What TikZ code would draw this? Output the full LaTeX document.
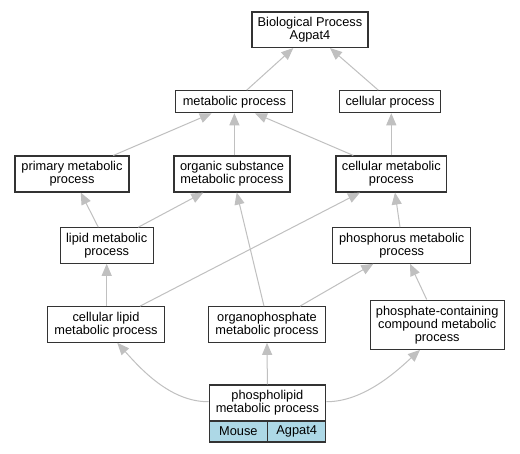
\documentclass[tikz,border=0pt]{standalone}
\usepackage{fontspec}
\setmainfont{Liberation Sans}
\usetikzlibrary{arrows.meta,calc}
\definecolor{edgegray}{HTML}{C0C0C0}
\definecolor{nodeblue}{HTML}{ADD8E6}
\definecolor{boxline}{HTML}{333333}
\begin{document}
\begin{tikzpicture}[x=1pt,y=-1pt,
  box/.style={draw=boxline, line width=1.1pt, fill=white, inner sep=0pt, align=center, font=\fontsize{12.8}{13}\selectfont},
  edge/.style={draw=edgegray, line width=1pt, -{Triangle[length=12pt,width=10pt]}, color=edgegray}]
\useasboundingbox (0,0) rectangle (520,453);
\fill[white] (0,0) rectangle (520,453);

\node[box, minimum width=116pt, minimum height=35.5pt] (bp) at (310,29.75) {Biological Process\\Agpat4};
\node[box, minimum width=117pt, minimum height=22pt] (met) at (234.4,101.7) {metabolic process};
\node[box, minimum width=101pt, minimum height=22pt] (cp) at (390,101.7) {cellular process};
\node[box, minimum width=114pt, minimum height=36pt] (prim) at (72,174) {primary metabolic\\process};
\node[box, minimum width=116pt, minimum height=36pt] (org) at (232,174) {organic substance\\metabolic process};
\node[box, minimum width=110.7pt, minimum height=36pt] (cmet) at (391.3,174) {cellular metabolic\\process};
\node[box, minimum width=93.3pt, minimum height=35.5pt] (lipid) at (106.7,245.5) {lipid metabolic\\process};
\node[box, minimum width=138pt, minimum height=35.5pt] (phos) at (401.7,245.5) {phosphorus metabolic\\process};
\node[box, minimum width=116.3pt, minimum height=35.6pt] (clip) at (106,324.5) {cellular lipid\\metabolic process};
\node[box, minimum width=116.3pt, minimum height=35.6pt] (orgp) at (267,324.5) {organophosphate\\metabolic process};
\node[box, minimum width=133.7pt, minimum height=49.3pt] (pcc) at (437.2,324.7) {phosphate-containing\\compound metabolic\\process};
\node[box, minimum width=116.7pt, minimum height=36pt] (pl) at (267.4,403) {phospholipid\\metabolic process};
\node[box, fill=nodeblue, minimum width=58.7pt, minimum height=21pt] (mouse) at (238.4,431.5) {Mouse};
\node[box, fill=nodeblue, minimum width=58pt, minimum height=21pt] (gene) at (296.7,431.5) {Agpat4};

\draw[edge] ($(met.north)+(12.3,0)$) -- ($(bp.south)+(-16.7,0)$);
\draw[edge] ($(cp.north)+(-11.7,0)$) -- ($(bp.south)+(20,0)$);
\draw[edge] ($(prim.north)+(41.3,0)$) -- ($(met.south)+(-22.7,0)$);
\draw[edge] ($(org.north)+(2.4,0)$) -- (met.south);
\draw[edge] ($(cmet.north)+(-38,0)$) -- ($(met.south)+(20.6,0)$);
\draw[edge] (cmet.north) -- ($(cp.south)+(1.3,0)$);
\draw[edge] ($(lipid.north)+(-8.4,0)$) -- ($(prim.south)+(8.7,0)$);
\draw[edge] ($(lipid.north)+(31.6,0)$) -- ($(org.south)+(-28.7,0)$);
\draw[edge] ($(orgp.north)+(-3,0)$) -- ($(org.south)+(4.7,0)$);
\draw[edge] ($(clip.north)+(34,0)$) -- ($(cmet.south)+(-31.3,0)$);
\draw[edge] ($(phos.north)+(-1.7,0)$) -- ($(cmet.south)+(3.7,0)$);
\draw[edge] ($(clip.north)+(0.7,0)$) -- (lipid.south);
\draw[edge] ($(orgp.north)+(33,0)$) -- ($(phos.south)+(-28.4,0)$);
\draw[edge] ($(pcc.north)+(-10.5,0)$) -- ($(phos.south)+(8.3,0)$);
\draw[edge] (pl.north) -- (orgp.south);
\draw[edge] ($(pl.west)+(0,-1.3)$) .. controls (170,402) and (140,368) .. ($(clip.south)+(11.3,0)$);
\draw[edge] ($(pl.east)+(0,-1.3)$) .. controls (365,402) and (400,368) .. ($(pcc.south)+(-17.2,0)$);
\end{tikzpicture}
\end{document}
